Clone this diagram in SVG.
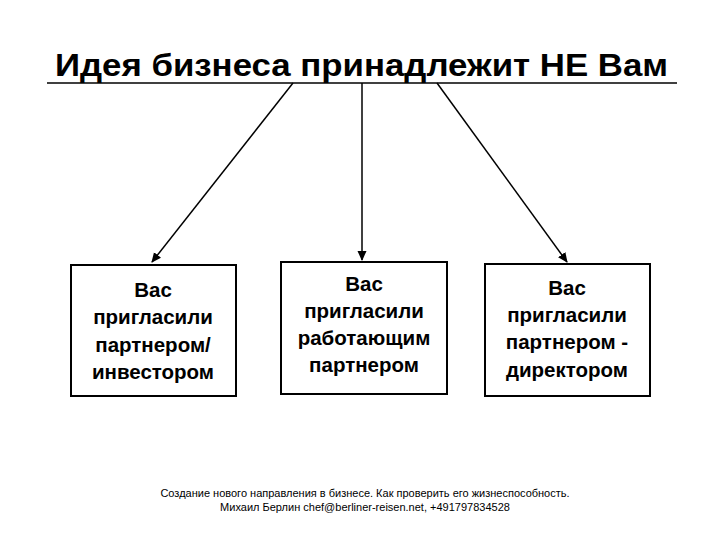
<svg xmlns="http://www.w3.org/2000/svg" width="720" height="540" viewBox="0 0 720 540">
<defs>
<marker id="ah" markerWidth="10" markerHeight="10" refX="9" refY="5" orient="auto" markerUnits="userSpaceOnUse">
<path d="M0,0.5 L10,5 L0,9.5 Z" fill="#000"/>
</marker>
<style>
.title{font-family:"Liberation Sans",Arial,sans-serif;font-weight:bold;font-size:32px;fill:#000}
.box{fill:#fff;stroke:#000;stroke-width:2}
.bt{font-family:"Liberation Sans",Arial,sans-serif;font-weight:bold;font-size:20.5px;fill:#000;text-anchor:middle}
.ft{font-family:"Liberation Sans",Arial,sans-serif;font-size:11px;fill:#000;text-anchor:middle}
.conn{stroke:#000;stroke-width:1.5;fill:none;marker-end:url(#ah)}
</style>
</defs>
<rect width="720" height="540" fill="#fff"/>
<g id="title">
<text class="title" x="55" y="76" textLength="613" lengthAdjust="spacingAndGlyphs">Идея бизнеса принадлежит НЕ Вам</text>
<line x1="47" y1="83" x2="677" y2="83" stroke="#000" stroke-width="1.5"/>
</g>
<g id="connectors">
<line class="conn" x1="293" y1="83" x2="152" y2="262"/>
<line class="conn" x1="362" y1="83" x2="362" y2="260"/>
<line class="conn" x1="437" y1="83" x2="567" y2="262"/>
</g>
<g id="box1">
<rect class="box" x="71" y="265" width="165" height="131"/>
<text class="bt" x="153" y="297">Вас</text>
<text class="bt" x="153" y="324">пригласили</text>
<text class="bt" x="153" y="352">партнером/</text>
<text class="bt" x="153" y="379">инвестором</text>
</g>
<g id="box2">
<rect class="box" x="281" y="262" width="166" height="132"/>
<text class="bt" x="364" y="291">Вас</text>
<text class="bt" x="364" y="318">пригласили</text>
<text class="bt" x="364" y="345">работающим</text>
<text class="bt" x="364" y="372">партнером</text>
</g>
<g id="box3">
<rect class="box" x="485" y="264" width="165" height="132"/>
<text class="bt" x="567" y="295">Вас</text>
<text class="bt" x="567" y="322">пригласили</text>
<text class="bt" x="567" y="349">партнером -</text>
<text class="bt" x="567" y="377">директором</text>
</g>
<g id="footer">
<text class="ft" x="365" y="497">Создание нового направления в бизнесе. Как проверить его жизнеспособность.</text>
<text class="ft" x="365" y="511">Михаил Берлин chef@berliner-reisen.net, +491797834528</text>
</g>
</svg>
